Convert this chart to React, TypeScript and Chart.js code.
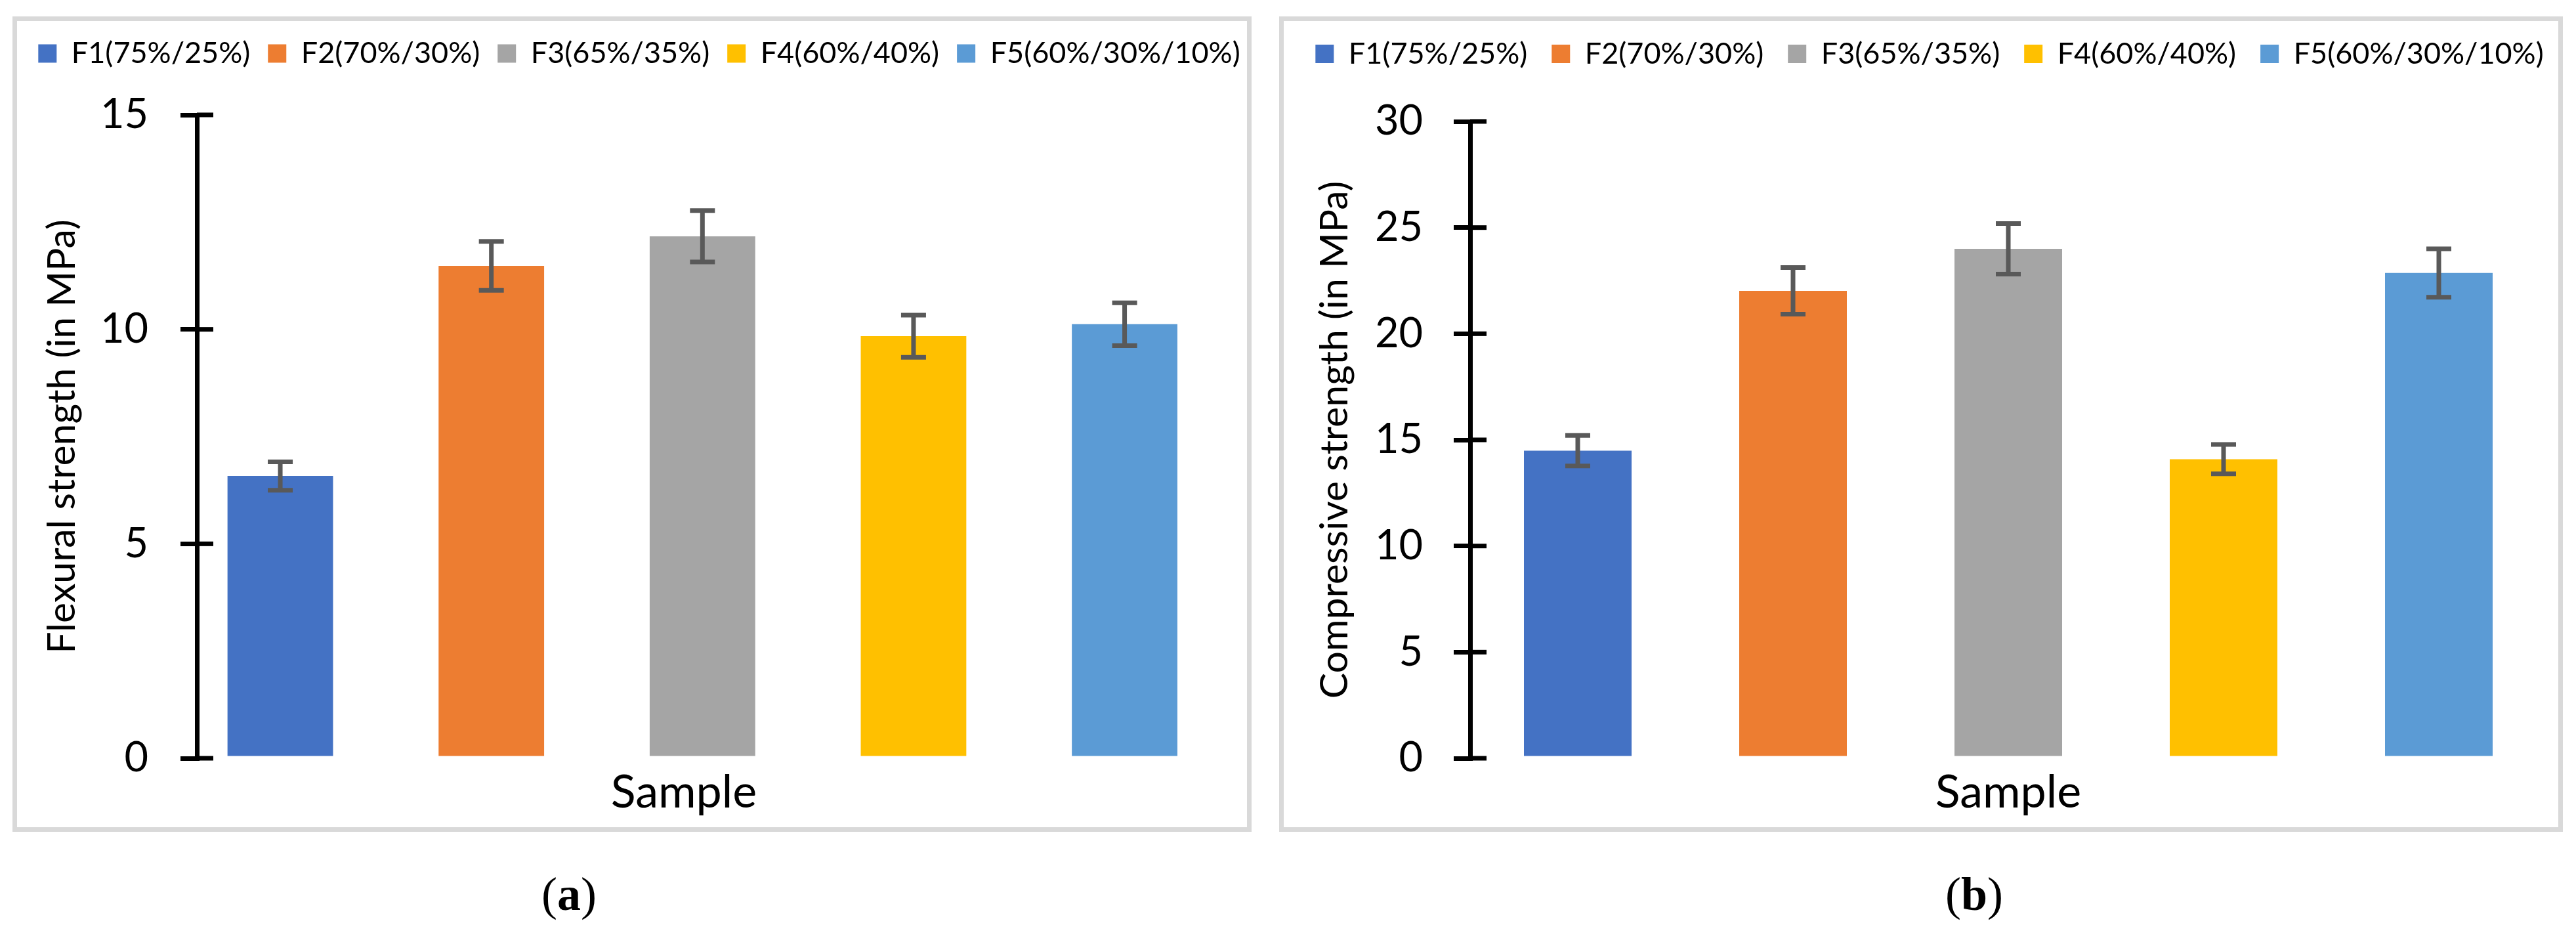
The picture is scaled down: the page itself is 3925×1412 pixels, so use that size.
import React, { useEffect, useRef } from "react";
import { Chart, registerables } from "chart.js";

Chart.register(...registerables);

// legend entries, one bar each
const seriesLabels = ["F1(75%/25%)", "F2(70%/30%)", "F3(65%/35%)", "F4(60%/40%)", "F5(60%/30%/10%)"];
const seriesColors = ["#4472C4", "#ED7D31", "#A5A5A5", "#FFC000", "#5B9BD5"];
const barSlots = [1, 2, 3, 4, 5];

// (a) flexural strength
const flexuralValues = [6.58, 11.48, 12.17, 9.84, 10.12];
const flexuralErrors = [0.33, 0.57, 0.6, 0.49, 0.5];
const flexuralTicks = [0, 5, 10, 15];

// (b) compressive strength
const compressiveValues = [14.49, 22.02, 24.0, 14.09, 22.86];
const compressiveErrors = [0.72, 1.1, 1.19, 0.69, 1.14];
const compressiveTicks = [0, 5, 10, 15, 20, 25, 30];

const FONT = "Lato, 'Noto Sans', sans-serif";

// vertical error bars with caps
const errorBarPlugin = {
  id: "errorBars",
  afterDatasetsDraw(chart: any, _args: any, opts: any) {
    const { ctx } = chart;
    const y = chart.scales.y;
    const errors: number[] = opts.errors || [];
    const values: number[] = chart.data.datasets[0].data.map((d: any) => d.y);
    ctx.save();
    ctx.strokeStyle = "#595959";
    ctx.lineWidth = 7;
    chart.getDatasetMeta(0).data.forEach((bar: any, j: number) => {
      const top = y.getPixelForValue(values[j] + errors[j]);
      const bot = y.getPixelForValue(values[j] - errors[j]);
      ctx.beginPath();
      ctx.moveTo(bar.x, top);
      ctx.lineTo(bar.x, bot);
      ctx.moveTo(bar.x - 19, top);
      ctx.lineTo(bar.x + 19, top);
      ctx.moveTo(bar.x - 19, bot);
      ctx.lineTo(bar.x + 19, bot);
      ctx.stroke();
    });
    ctx.restore();
  },
};

// inner half of the "cross" tick marks on the y axis
const crossTickPlugin = {
  id: "crossTicks",
  afterDraw(chart: any) {
    const { ctx, chartArea } = chart;
    const y = chart.scales.y;
    ctx.save();
    ctx.strokeStyle = "#000";
    ctx.lineWidth = 7;
    y.ticks.forEach((t: any) => {
      const py = y.getPixelForValue(t.value);
      ctx.beginPath();
      ctx.moveTo(chartArea.left, py);
      ctx.lineTo(chartArea.left + 25, py);
      ctx.stroke();
    });
    ctx.restore();
  },
};

type PanelProps = {
  values: number[];
  errors: number[];
  yTicks: number[];
  yTitle: string;
  xMin: number;
  xMax: number;
  left: number;
  width: number;
  padTop: number;
  yWidth: number;
  rightGap: number;
  yTitlePad: number;
  tickPad: number;
  legendPad: number;
  topGap: number;
};

const hiddenScale = {
  type: "linear",
  display: true,
  ticks: { display: false },
  grid: { display: false },
  border: { display: false },
};

const Panel = (p: PanelProps) => {
  const canvasRef = useRef<HTMLCanvasElement>(null);
  const chartRef = useRef<Chart | null>(null);

  useEffect(() => {
    if (!canvasRef.current) return;
    if (chartRef.current) chartRef.current.destroy();

    chartRef.current = new Chart(canvasRef.current, {
      type: "bar",
      data: {
        datasets: [
          {
            label: "Sample",
            data: barSlots.map((x, i) => ({ x, y: p.values[i] })),
            backgroundColor: seriesColors,
            borderWidth: 0,
            barPercentage: 0.5,
            categoryPercentage: 1,
            clip: false,
          },
        ],
      },
      options: {
        responsive: true,
        maintainAspectRatio: false,
        animation: false,
        layout: { padding: { left: 0, right: 0, top: p.padTop, bottom: 0 } },
        plugins: {
          legend: {
            position: "top",
            labels: {
              boxWidth: 28,
              boxHeight: 28,
              padding: p.legendPad,
              color: "#000",
              font: { family: FONT, size: 45 },
              generateLabels: () =>
                seriesLabels.map((text, i) => ({
                  text,
                  fillStyle: seriesColors[i],
                  strokeStyle: seriesColors[i],
                  lineWidth: 0,
                  hidden: false,
                  datasetIndex: 0,
                })),
            },
          },
          tooltip: { enabled: false },
          errorBars: { errors: p.errors },
        } as any,
        scales: {
          x: {
            type: "linear",
            offset: false,
            min: p.xMin,
            max: p.xMax,
            afterBuildTicks: (s: any) => {
              s.ticks = barSlots.map((v) => ({ value: v }));
            },
            ticks: { display: false },
            grid: { display: false },
            border: { display: false },
            title: {
              display: true,
              text: "Sample",
              color: "#000",
              font: { family: FONT, size: 70 },
              padding: { top: 0, bottom: 11 },
            },
            afterFit: (s: any) => {
              s.height = 105;
            },
          },
          // empty band between legend and plot
          xt: {
            ...hiddenScale,
            position: "top",
            afterFit: (s: any) => {
              s.height = p.topGap;
            },
          },
          y: {
            min: 0,
            max: p.yTicks[p.yTicks.length - 1],
            afterBuildTicks: (s: any) => {
              s.ticks = p.yTicks.map((v) => ({ value: v }));
            },
            ticks: { color: "#000", font: { family: FONT, size: 63 }, padding: p.tickPad },
            grid: {
              display: true,
              drawOnChartArea: false,
              drawTicks: true,
              tickLength: 25,
              color: "#000",
              lineWidth: 7,
            },
            border: { display: true, color: "#000", width: 7 },
            title: {
              display: true,
              text: p.yTitle,
              color: "#000",
              font: { family: FONT, size: 59 },
              padding: { top: p.yTitlePad, bottom: 0 },
            },
            afterFit: (s: any) => {
              s.width = p.yWidth;
            },
          },
          // empty band right of the plot, lets the legend run wider
          yr: {
            ...hiddenScale,
            position: "right",
            afterFit: (s: any) => {
              s.width = p.rightGap;
            },
          },
        } as any,
      },
      plugins: [errorBarPlugin, crossTickPlugin],
    });

    return () => {
      if (chartRef.current) {
        chartRef.current.destroy();
        chartRef.current = null;
      }
    };
  }, []);

  return (
    <div style={{ position: "absolute", left: p.left, top: 32, width: p.width, height: 1228 }}>
      <canvas ref={canvasRef} />
    </div>
  );
};

const boxStyle = (left: number, width: number): React.CSSProperties => ({
  position: "absolute",
  left,
  top: 25,
  width,
  height: 1242,
  border: "7px solid #d9d9d9",
  boxSizing: "border-box",
  background: "#fff",
});

const captionStyle = (center: number): React.CSSProperties => ({
  position: "absolute",
  left: center - 100,
  width: 200,
  top: 1322,
  lineHeight: "80px",
  textAlign: "center",
  fontFamily: "'Liberation Serif', 'Times New Roman', serif",
  fontSize: 72,
  color: "#000",
});

export default function App() {
  return (
    <div
      style={{
        position: "absolute",
        left: 0,
        top: 0,
        width: 3925,
        height: 1412,
        background: "#fff",
        overflow: "hidden",
      }}
    >
      <div style={boxStyle(19, 1888)} />
      <div style={boxStyle(1949, 1956)} />
      <Panel
        values={flexuralValues}
        errors={flexuralErrors}
        yTicks={flexuralTicks}
        yTitle="Flexural strength (in MPa)"
        xMin={0.605}
        xMax={5.219}
        left={-6}
        width={1960}
        padTop={0}
        yWidth={306}
        rightGap={170}
        yTitlePad={65.6}
        tickPad={49}
        legendPad={27}
        topGap={61}
      />
      <Panel
        values={compressiveValues}
        errors={compressiveErrors}
        yTicks={compressiveTicks}
        yTitle="Compressive strength (in MPa)"
        xMin={0.5}
        xMax={5.5}
        left={1940}
        width={2000}
        padTop={-9.5}
        yWidth={300}
        rightGap={60}
        yTitlePad={58.6}
        tickPad={47}
        legendPad={37}
        topGap={70.5}
      />
      <div style={captionStyle(867)}>
        (<b>a</b>)
      </div>
      <div style={captionStyle(3008)}>
        (<b>b</b>)
      </div>
    </div>
  );
}
